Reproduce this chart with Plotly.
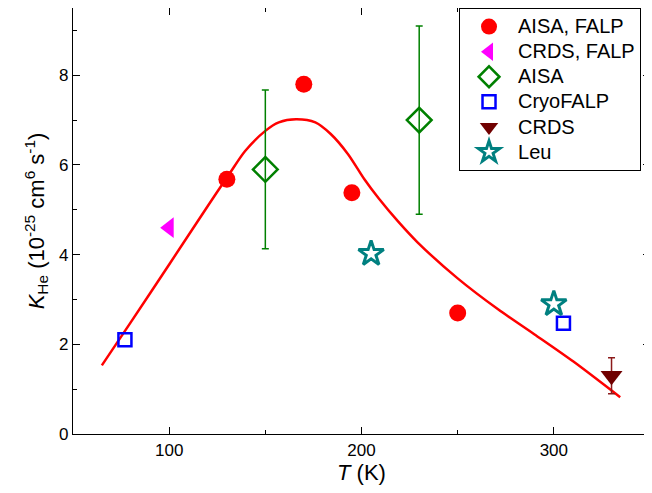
import plotly.graph_objects as go

# Data
aisa_falp_T = [130, 170, 195, 250]
aisa_falp_K = [5.68, 7.8, 5.38, 2.7]

crds_falp_T = [100]
crds_falp_K = [4.6]

aisa_T = [150, 230]
aisa_K = [5.9, 7.0]
aisa_err = [1.77, 2.1]

cryo_T = [77, 305]
cryo_K = [2.1, 2.47]

crds_T = [330]
crds_K = [1.3]
crds_err = [0.4]

leu_T = [205, 300]
leu_K = [4.02, 2.9]

fit_T = [65, 80, 100, 120, 131, 139.5, 150, 157, 166, 176, 184, 193, 201.5, 209, 219, 229,
         250, 271, 290, 310, 334.5]
fit_K = [1.53, 2.49, 3.78, 5.08, 5.78, 6.31, 6.76, 6.95, 7.02, 6.95, 6.69, 6.24, 5.68, 5.25, 4.74, 4.28,
         3.47, 2.78, 2.22, 1.62, 0.82]

FONT = "Liberation Sans, Arial, sans-serif"


def big(s):
    return "<span style='font-size:20px'>" + s + "</span>"


fig = go.Figure()

fig.add_trace(go.Scatter(x=fit_T, y=fit_K, mode="lines",
                         line=dict(color="#FF0000", width=2.5, shape="spline", smoothing=0.8),
                         showlegend=False, hoverinfo="skip"))

fig.add_trace(go.Scatter(x=aisa_falp_T, y=aisa_falp_K, mode="markers", name=big("AISA, FALP"),
                         marker=dict(symbol="circle", size=17, color="#FF0000")))
fig.add_trace(go.Scatter(x=crds_falp_T, y=crds_falp_K, mode="markers", name=big("CRDS, FALP"),
                         marker=dict(symbol="triangle-left", size=18, color="#FF00FF")))
fig.add_trace(go.Scatter(x=aisa_T, y=aisa_K, mode="markers", name=big("AISA"),
                         error_y=dict(type="data", array=aisa_err, color="#008000", thickness=1.5, width=3.5),
                         marker=dict(symbol="diamond-open", size=19, color="#008000", line=dict(width=2.5, color="#008000"))))
fig.add_trace(go.Scatter(x=cryo_T, y=cryo_K, mode="markers", name=big("CryoFALP"),
                         marker=dict(symbol="square-open", size=13, color="#0000FF", line=dict(width=2.5, color="#0000FF"))))
fig.add_trace(go.Scatter(x=crds_T, y=crds_K, mode="markers", name=big("CRDS"),
                         error_y=dict(type="data", array=crds_err, color="#8B1A1A", thickness=1.5, width=3.5),
                         marker=dict(symbol="triangle-down", size=19, color="#700000")))
fig.add_trace(go.Scatter(x=leu_T, y=leu_K, mode="markers", name=big("Leu"),
                         marker=dict(symbol="star-open", size=19, color="#008080", line=dict(width=3, color="#008080"))))

axis_common = dict(showline=True, linecolor="black", linewidth=1.2, mirror="ticks", ticks="inside",
                   tickcolor="black", tickwidth=1.2, ticklen=7, showgrid=False, zeroline=False,
                   automargin=False,
                   tickfont=dict(family=FONT, size=17, color="black"))

fig.update_xaxes(range=[50, 350], tickvals=[100, 200, 300],
                 minor=dict(dtick=50, tick0=0, ticks="inside", ticklen=4, tickcolor="black", tickwidth=1.2),
                 title=dict(text="<i>T</i> (K)", font=dict(family=FONT, size=22, color="black"), standoff=6),
                 **axis_common)
fig.update_yaxes(range=[0, 9.5], tickvals=[0, 2, 4, 6, 8],
                 minor=dict(dtick=1, tick0=0, ticks="inside", ticklen=4, tickcolor="black", tickwidth=1.2),
                 title=dict(text="<i>K</i><sub>He</sub> (10<sup>-25</sup> cm<sup>6</sup> s<sup>-1</sup>)",
                            font=dict(family=FONT, size=22, color="black"), standoff=8),
                 **axis_common)

fig.update_layout(
    width=644, height=477,
    margin=dict(l=65, r=2, t=0, b=51),
    paper_bgcolor="white", plot_bgcolor="white",
    font=dict(family=FONT, color="black"),
    legend=dict(x=0.669, y=1, xanchor="left", yanchor="top", bordercolor="black", borderwidth=1,
                bgcolor="white", itemwidth=48, tracegroupgap=0,
                font=dict(family=FONT, size=17, color="black")),
)

fig.write_html("out.html")
